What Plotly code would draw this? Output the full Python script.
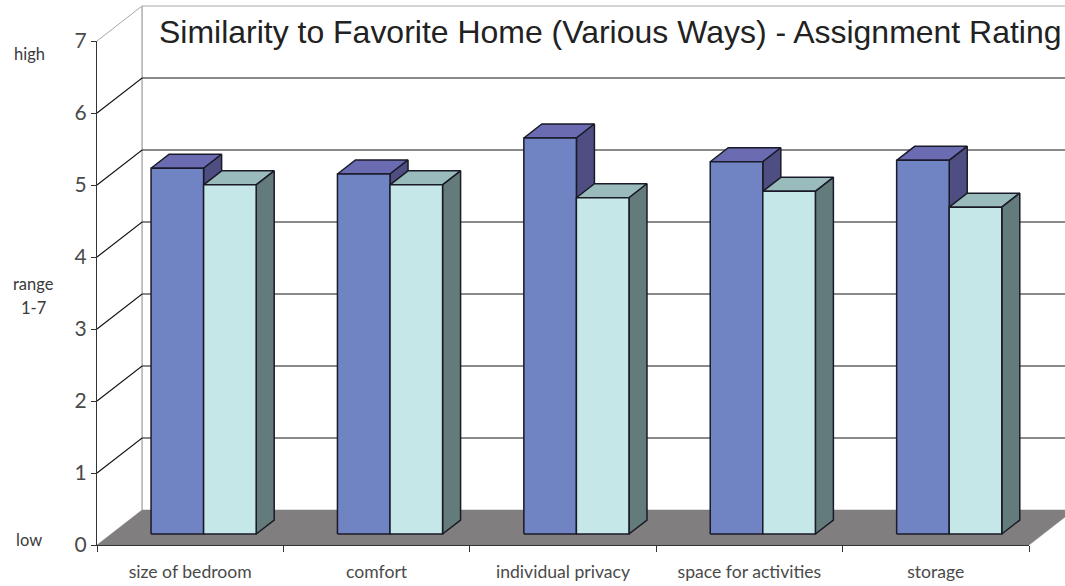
import plotly.graph_objects as go

# Chart data
categories = ["size of bedroom", "comfort", "individual privacy", "space for activities", "storage"]
similarity = [5.08, 5.00, 5.50, 5.17, 5.19]
assignment = [4.85, 4.85, 4.67, 4.76, 4.54]
y_ticks = [0, 1, 2, 3, 4, 5, 6, 7]

WIDTH, HEIGHT = 1065, 586
LABEL_FONT = "Lato, Liberation Sans, sans-serif"

# Axis origin and scale in pixels
X0, Y0 = 97, 545
PX_PER_CAT, PX_PER_UNIT = 186.4, 72.0

# Oblique projection: a point at depth d (0 = front, 1 = back wall) shifts by d*KX, d*KY
KX, KY = 0.2417, 0.486
BAR_FRONT, BAR_BACK = 0.314, 0.714
BAR_W = 0.282
BAR_OFFSET = 0.496


def project(c, v, d):
    return c + d * KX, v + d * KY


def polygon(points, fill, line="#1a1a28", width=1.5):
    xs, ys = zip(*[project(*p) for p in points])
    return go.Scatter(
        x=list(xs) + [xs[0]], y=list(ys) + [ys[0]], mode="lines", fill="toself",
        fillcolor=fill, line=dict(color=line, width=width), hoverinfo="skip",
        showlegend=False,
    )


def polyline(points, color, width=1.2):
    xs, ys = zip(*[project(*p) for p in points])
    return go.Scatter(
        x=xs, y=ys, mode="lines", line=dict(color=color, width=width),
        hoverinfo="skip", showlegend=False,
    )


def box(x0, x1, value, front, top, side):
    """Front, top and side faces of one 3-D column."""
    return [
        polygon([(x0, value, BAR_FRONT), (x0, value, BAR_BACK), (x1, value, BAR_BACK), (x1, value, BAR_FRONT)], top),
        polygon([(x1, 0, BAR_FRONT), (x1, value, BAR_FRONT), (x1, value, BAR_BACK), (x1, 0, BAR_BACK)], side),
        polygon([(x0, 0, BAR_FRONT), (x0, value, BAR_FRONT), (x1, value, BAR_FRONT), (x1, 0, BAR_FRONT)], front),
    ]


n = len(categories)
fig = go.Figure()

# Floor and walls
fig.add_trace(polygon([(0, 0, 0), (0, 0, 1), (n, 0, 1), (n, 0, 0)], "#807e7e", line="#807e7e", width=0.5))
fig.add_trace(polyline([(0, 0, 1), (0, 7, 1)], "#9a9a9a", 1.2))
for v in y_ticks[1:]:
    color = "#a8a8a8" if v == 7 else "#141414"
    fig.add_trace(polyline([(0, v, 0), (0, v, 1), (n, v, 1)], color, 1.0 if v == 7 else 1.2))

# Columns, drawn left to right so that nearer faces overlap correctly
for i in range(n):
    mid = i + BAR_OFFSET
    for trace in box(mid - BAR_W, mid, similarity[i], "#7083c2", "#6a6bb0", "#4e4e82"):
        fig.add_trace(trace)
    for trace in box(mid, mid + BAR_W, assignment[i], "#c6e7e8", "#99bbbb", "#637b7b"):
        fig.add_trace(trace)

# Empty trace that keeps the visible axis pair on the figure
fig.add_trace(go.Scatter(x=[0], y=[0], mode="none", xaxis="x2", yaxis="y2",
                         hoverinfo="skip", showlegend=False))

fig.update_layout(
    width=WIDTH, height=HEIGHT, autosize=False,
    margin=dict(l=0, r=0, t=0, b=0, autoexpand=False),
    paper_bgcolor="white", plot_bgcolor="rgba(0,0,0,0)",
    showlegend=False,
    title=dict(
        text="Similarity to Favorite Home (Various Ways) - Assignment Rating",
        x=159 / WIDTH, xref="paper", xanchor="left",
        y=1 - 32 / HEIGHT, yref="paper", yanchor="middle",
        font=dict(family="Liberation Sans, Arial, sans-serif", size=31.97, color="#222222"),
    ),
    # Drawing axes: span the whole canvas so depth offsets can extend past the front axes
    xaxis=dict(domain=[0, 1], range=[-X0 / PX_PER_CAT, (WIDTH - X0) / PX_PER_CAT], visible=False),
    yaxis=dict(domain=[0, 1], range=[-(HEIGHT - Y0) / PX_PER_UNIT, Y0 / PX_PER_UNIT], visible=False),
    # Visible front axes
    xaxis2=dict(
        domain=[X0 / WIDTH, (X0 + n * PX_PER_CAT) / WIDTH], range=[0, n], anchor="y2",
        showgrid=False, zeroline=False, showline=True, linecolor="#333333", linewidth=1.2,
        tickmode="array", tickvals=[i + 0.5 for i in range(n)], ticktext=categories,
        ticks="", ticklabelstandoff=11,
        tickfont=dict(family=LABEL_FONT, size=17.6, color="#4a4a4a"),
        minor=dict(tickmode="array", tickvals=list(range(n + 1)), ticks="outside",
                   ticklen=6, tickcolor="#333333", tickwidth=1.2, showgrid=False),
    ),
    yaxis2=dict(
        domain=[(HEIGHT - Y0) / HEIGHT, (HEIGHT - Y0 + 7 * PX_PER_UNIT) / HEIGHT], range=[0, 7],
        anchor="x2", showgrid=False, zeroline=False, showline=True, linecolor="#333333",
        linewidth=1.2, tickmode="array", tickvals=y_ticks, ticks="outside", ticklen=5,
        tickcolor="#333333", tickwidth=1.2,
        tickfont=dict(family=LABEL_FONT, size=21, color="#4a4a4a"),
    ),
    annotations=[
        dict(text=t, x=x / WIDTH, y=1 - y / HEIGHT, xref="paper", yref="paper", showarrow=False,
             xanchor="center", yanchor="middle",
             font=dict(family=LABEL_FONT, size=16.5, color="#3a3a3a"))
        for t, x, y in [("high", 29, 54), ("range", 33, 284), ("1-7", 33, 308), ("low", 29, 540)]
    ],
)

fig.write_html("out.html")
